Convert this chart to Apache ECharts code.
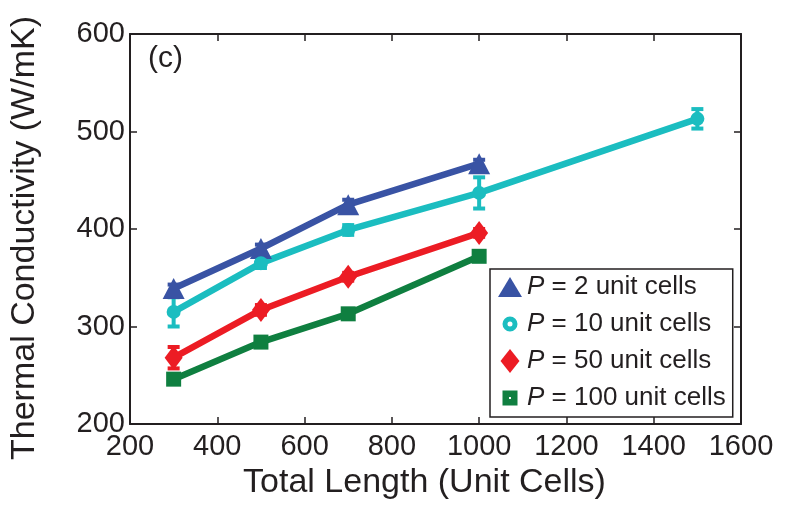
<!DOCTYPE html>
<html>
<head>
<meta charset="utf-8">
<script src="https://cdn.jsdelivr.net/npm/echarts@6/dist/echarts.min.js"></script>
<style>
  html, body { margin: 0; padding: 0; background: #fff; }
  #chart { width: 786px; height: 512px; }
</style>
</head>
<body>
<div id="chart"></div>
<script>
// Total length of the structure, in unit cells
const lengths = [300, 500, 700, 1000];
const lengthsP10 = [300, 500, 700, 1000, 1500];

// Thermal conductivity (W/mK) per period P
const kP2 = [339, 380, 425, 467];
const kP10 = [315, 365, 399, 437, 513];
const kP50 = [268, 317, 351, 396];
const kP100 = [246, 284, 313, 372];

// Half-widths of the error bars
const errP2 = [4, 4, 5, 4];
const errP10 = [15, 5, 5, 16, 10];
const errP50 = [11, 5, 4, 4];
const errP100 = [3, 3, 3, 2];

// Axis ticks
const xTicks = { min: 200, max: 1600, step: 200 };
const yTicks = { min: 200, max: 600, step: 100 };

const names = ['P = 2 unit cells', 'P = 10 unit cells', 'P = 50 unit cells', 'P = 100 unit cells'];
const colors = ['#3953a4', '#1bbdc0', '#ec1c24', '#0f7f40'];

const FONT = 'Liberation Sans';
const INK = '#231f20';

const pairs = (xs, ys) => xs.map((x, i) => [x, ys[i]]);
const triples = (xs, ys, es) => xs.map((x, i) => [x, ys[i], es[i]]);

function lineSeries(name, color, data, symbol, size) {
  return {
    type: 'line', name, data, symbol, symbolSize: size,
    itemStyle: { color },
    lineStyle: { color, width: 6.5 },
    emphasis: { disabled: true },
    silent: true
  };
}

function errorSeries(color, data) {
  return {
    type: 'custom', name: 'err', data, silent: true,
    encode: { x: 0, y: 1 },
    renderItem(params, api) {
      const x = api.value(0), y = api.value(1), e = api.value(2);
      const top = api.coord([x, y + e]);
      const bot = api.coord([x, y - e]);
      const hw = 6;
      const st = { stroke: color, lineWidth: 4 };
      return {
        type: 'group',
        children: [
          { type: 'line', shape: { x1: top[0], y1: top[1], x2: bot[0], y2: bot[1] }, style: st },
          { type: 'line', shape: { x1: top[0] - hw, y1: top[1], x2: top[0] + hw, y2: top[1] }, style: st },
          { type: 'line', shape: { x1: bot[0] - hw, y1: bot[1], x2: bot[0] + hw, y2: bot[1] }, style: st }
        ]
      };
    }
  };
}

// Legend glyphs in a 24x24 box (leading moveTos fix the box size)
const PAD = 'M0,0 M24,24 ';
const icons = [
  'path://' + PAD + 'M0,22 L12,2 L24,22 Z',
  'path://' + PAD + 'M4.5,12 A7.5,7.5 0 1,0 19.5,12 A7.5,7.5 0 1,0 4.5,12 Z M9.5,12 A2.5,2.5 0 1,1 14.5,12 A2.5,2.5 0 1,1 9.5,12 Z',
  'path://' + PAD + 'M12,0 L21.5,12 L12,24 L2.5,12 Z',
  'path://' + PAD + 'M4.5,4.5 H19.5 V19.5 H4.5 Z M11,11 V13 H13 V11 Z'
];

const axisLine = { show: true, lineStyle: { color: INK, width: 2 } };
const axisTick = { show: true, inside: true, length: 7, lineStyle: { color: INK, width: 1.5 } };
const plain = v => String(v);

const chart = echarts.init(document.getElementById('chart'), null, { renderer: 'canvas' });
chart.setOption({
  animation: false,
  backgroundColor: '#fff',
  grid: { left: 130, right: 45, top: 34, bottom: 88, containLabel: false },
  xAxis: [
    {
      type: 'value', min: xTicks.min, max: xTicks.max, interval: xTicks.step, position: 'bottom',
      axisLine, axisTick, splitLine: { show: false },
      axisLabel: { fontSize: 29, color: INK, fontFamily: FONT, margin: 8, formatter: plain },
      name: 'Total Length (Unit Cells)', nameLocation: 'middle', nameGap: 40,
      nameTextStyle: { fontSize: 34, color: INK, fontFamily: FONT, padding: [0, 22, 0, 0] }
    },
    {
      type: 'value', min: xTicks.min, max: xTicks.max, interval: xTicks.step, position: 'top',
      axisLine, axisTick, splitLine: { show: false }, axisLabel: { show: false }
    }
  ],
  yAxis: [
    {
      type: 'value', min: yTicks.min, max: yTicks.max, interval: yTicks.step, position: 'left',
      axisLine, axisTick, splitLine: { show: false },
      axisLabel: { fontSize: 29, color: INK, fontFamily: FONT, margin: 5, formatter: plain },
      name: 'Thermal Conductivity (W/mK)', nameLocation: 'middle', nameGap: 88,
      nameTextStyle: { fontSize: 34, color: INK, fontFamily: FONT, padding: [0, 18, 0, 0] }
    },
    {
      type: 'value', min: yTicks.min, max: yTicks.max, interval: yTicks.step, position: 'right',
      axisLine, axisTick, splitLine: { show: false }, axisLabel: { show: false }
    }
  ],
  legend: {
    orient: 'vertical', left: 490, top: 269,
    itemWidth: 24, itemHeight: 24, itemGap: 11,
    padding: [5, 7, 6, 8],
    borderColor: INK, borderWidth: 1.5, backgroundColor: '#fff',
    selectedMode: false,
    data: names.map((n, i) => ({ name: n, icon: icons[i], itemStyle: { color: colors[i] } })),
    formatter: n => '{i|P}' + n.slice(1),
    textStyle: {
      fontSize: 26, color: INK, fontFamily: FONT,
      rich: { i: { fontStyle: 'italic', fontSize: 26, color: INK, fontFamily: FONT } }
    }
  },
  graphic: [
    { type: 'text', left: 148, top: 44, style: { text: '(c)', fontSize: 30, fontFamily: FONT, fill: INK } }
  ],
  series: [
    lineSeries(names[0], colors[0], pairs(lengths, kP2), 'triangle', [22, 21]),
    errorSeries(colors[0], triples(lengths, kP2, errP2)),
    lineSeries(names[1], colors[1], pairs(lengthsP10, kP10), 'circle', 14),
    errorSeries(colors[1], triples(lengthsP10, kP10, errP10)),
    lineSeries(names[2], colors[2], pairs(lengths, kP50), 'diamond', [18, 24]),
    errorSeries(colors[2], triples(lengths, kP50, errP50)),
    lineSeries(names[3], colors[3], pairs(lengths, kP100), 'rect', 15),
    errorSeries(colors[3], triples(lengths, kP100, errP100))
  ]
});
</script>
</body>
</html>
